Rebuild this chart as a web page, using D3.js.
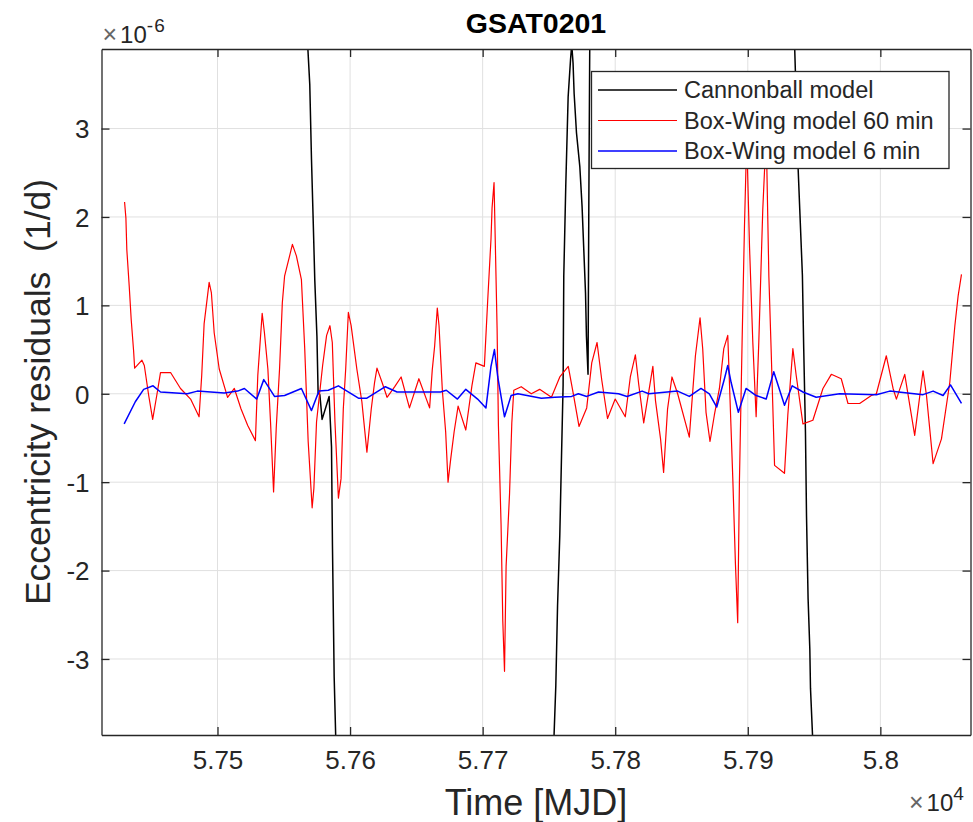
<!DOCTYPE html>
<html>
<head>
<meta charset="utf-8">
<script src="https://cdn.jsdelivr.net/npm/d3@7"></script>
<style>
  body { margin: 0; background: #fff; }
  text { font-family: "Liberation Sans", Arial, Helvetica, sans-serif; }
</style>
</head>
<body>
<div class="wrapper"></div>
<script>
// residuals are in units of 1e-6 (1/d), time in MJD
const cannonball_mjd = [57425, 57490, 57545, 57562, 57568.0, 57569.6, 57570.9, 57572.2, 57573.4, 57575.0,
  57575.9, 57577.2, 57578.9, 57584.2, 57586.0, 57586.7, 57588.0, 57589.2, 57600, 57660, 57720, 57748,
  57753.9, 57755.2, 57756.5, 57758.2, 57759.5, 57760.7, 57761.2, 57762.7, 57764.5, 57766.3, 57767.2,
  57768.2, 57769.0, 57770.8, 57773.3, 57775.0, 57776.3, 57777.6, 57778.3, 57779.5, 57780.1, 57780.8,
  57790, 57860, 57920, 57933, 57935.4, 57936.8, 57938.0, 57939.2, 57941.2, 57942.2, 57943.5, 57944.3,
  57945.5, 57946.8, 57947.3, 57948.8, 57960, 58020, 58062];
const cannonball_res = [12, 19, 13, 6.5, 3.95, 3.5, 2.65, 1.95, 1.28, 0.65,
  0.01, -0.01, -0.29, -0.03, -0.6, -1.7, -3.2, -3.9, -10, -18, -13, -6.5,
  -3.85, -3.3, -2.4, -1.6, -0.7, 0.1, 1.33, 2.35, 3.36, 3.78, 3.95,
  3.74, 3.40, 2.95, 2.57, 2.12, 1.63, 1.14, 0.65, 0.22, 2.16, 3.95,
  10, 17, 9, 5, 3.9, 3.2, 2.54, 2.09, 1.34, 0.51, -0.43, -1.38,
  -2.32, -2.89, -3.33, -3.85, -10, -17, -14];

const bw60_mjd = [57429.9, 57430.9, 57431.6, 57433.4, 57434.9, 57436.7, 57437.5, 57443.0, 57444.8, 57448.1,
  57451.1, 57454.4, 57457.0, 57464.6, 57472.1, 57479.7, 57486.1, 57488.1, 57489.9, 57493.7,
  57495.4, 57497.5, 57501.3, 57507.6, 57512.7, 57517.7, 57522.8, 57528.6, 57530.4, 57533.7,
  57535.4, 57538.0, 57540.0, 57542.3, 57544.3, 57546.8, 57548.9, 57550.6, 57554.4, 57556.5,
  57559.5, 57563.3, 57565.8, 57568.4, 57571.4, 57572.7, 57574.7, 57579.3, 57582.3, 57584.8,
  57586.6, 57588.6, 57591.2, 57593.2, 57594.9, 57596.7, 57598.7, 57600.8, 57605.1, 57608.9,
  57612.7, 57616.0, 57618.5, 57620.3, 57624.1, 57627.9, 57633.7, 57638.5, 57644.8, 57651.9,
  57660.0, 57662.0, 57663.8, 57665.8, 57667.1, 57669.6, 57672.1, 57673.9, 57675.9, 57678.5,
  57681.5, 57687.3, 57691.9, 57694.9, 57701.3, 57703.8, 57706.3, 57707.1, 57708.6, 57710.9,
  57711.9, 57713.9, 57715.2, 57716.5, 57717.7, 57720.3, 57722.0, 57723.5, 57729.1, 57736.7,
  57743.0, 57751.9, 57758.2, 57764.6, 57768.4, 57772.7, 57778.5, 57782.3, 57786.3, 57789.9,
  57794.2, 57800.0, 57807.6, 57811.4, 57815.2, 57817.7, 57821.5, 57828.4, 57830.4, 57834.2,
  57836.5, 57839.5, 57842.8, 57847.1, 57855.9, 57860.5, 57864.0, 57866.0, 57868.5, 57871.5,
  57874.8, 57878.6, 57881.9, 57884.9, 57886.6, 57888.7, 57890.7, 57892.4, 57893.7, 57895.7,
  57897.5, 57899.2, 57901.3, 57903.8, 57906.3, 57908.3, 57911.3, 57913.9, 57915.9, 57917.6,
  57920.2, 57927.7, 57930.2, 57934.0, 57936.5, 57941.6, 57949.1, 57956.7, 57963.0, 57970.5,
  57975.6, 57984.4, 57993.2, 57997.0, 58004.5, 58009.6, 58012.1, 58018.4, 58025.9, 58032.2,
  58034.8, 58039.8, 58046.1, 58052.4, 58056.2, 58058.7, 58061.2];
const bw60_res = [2.17, 1.99, 1.63, 1.22, 0.84, 0.49, 0.29, 0.38, 0.32, -0.02,
  -0.29, 0.00, 0.24, 0.24, 0.06, -0.06, -0.26, 0.21, 0.79, 1.26,
  1.14, 0.69, 0.28, -0.04, 0.06, -0.17, -0.36, -0.53, 0.21, 0.91,
  0.69, 0.28, -0.32, -1.11, -0.39, 0.28, 1.03, 1.33, 1.56, 1.69,
  1.56, 1.29, 0.51, -0.54, -1.29, -1.07, -0.32, 0.32, 0.66, 0.77,
  0.58, -0.32, -1.18, -0.96, -0.17, 0.28, 0.92, 0.77, 0.28, -0.09,
  -0.66, -0.17, 0.13, 0.29, 0.13, -0.04, 0.08, 0.19, -0.16, 0.17,
  -0.16, 0.27, 0.54, 0.97, 0.77, 0.04, -0.43, -1.00, -0.74, -0.43,
  -0.14, -0.41, 0.09, 0.35, 0.31, 1.05, 1.75, 2.10, 2.39, 0.74,
  -0.36, -1.48, -2.57, -3.14, -1.95, -1.13, -0.33, 0.04, 0.08, 0.00,
  0.05, -0.04, 0.19, 0.31, 0.00, -0.37, -0.16, 0.35, 0.58, 0.15,
  -0.28, -0.06, -0.26, 0.19, 0.44, 0.11, -0.33, 0.31, -0.08, -0.51,
  -0.89, -0.17, 0.19, 0.00, -0.49, 0.43, 0.86, 0.51, -0.21, -0.54,
  -0.24, 0.06, 0.51, 0.66, -0.06, -0.96, -1.93, -2.59, -0.99, 0.58,
  1.89, 2.90, 1.67, 0.58, -0.26, 0.58, 2.08, 2.95, 1.33, 0.51,
  -0.81, -0.90, -0.24, 0.51, 0.21, -0.34, -0.30, 0.06, 0.22, 0.17,
  -0.11, -0.11, -0.02, 0.00, 0.43, 0.06, -0.06, 0.22, -0.47, 0.26,
  -0.02, -0.79, -0.51, 0.13, 0.77, 1.11, 1.35];

const bw6_mjd = [57429.6, 57438.0, 57444.3, 57451.4, 57457.0, 57477.2, 57484.8, 57505.1, 57515.2, 57520.3,
  57529.6, 57534.9, 57543.0, 57550.6, 57563.3, 57570.9, 57576.5, 57583.6, 57591.2, 57606.3,
  57612.7, 57626.6, 57635.4, 57668.3, 57672.6, 57681.0, 57687.3, 57696.2, 57702.5, 57706.3,
  57708.9, 57711.4, 57716.5, 57721.5, 57726.6, 57744.3, 57754.4, 57767.1, 57772.2, 57778.5,
  57787.4, 57802.5, 57808.9, 57820.3, 57825.3, 57847.1, 57855.9, 57864.7, 57871.0, 57876.6,
  57882.4, 57884.9, 57887.4, 57892.9, 57898.7, 57906.3, 57913.9, 57919.6, 57927.7, 57933.5,
  57941.6, 57951.6, 57969.3, 57997.0, 58007.1, 58032.2, 58039.8, 58047.3, 58052.9, 58061.2];
const bw6_res = [-0.34, -0.09, 0.05, 0.09, 0.02, 0.00, 0.03, 0.01, 0.03, 0.06,
  -0.06, 0.16, -0.03, -0.02, 0.06, -0.19, 0.03, 0.04, 0.09, -0.05,
  -0.05, 0.08, 0.02, 0.02, 0.04, -0.06, 0.05, -0.06, -0.16, 0.31,
  0.50, 0.19, -0.26, -0.02, 0.00, -0.05, -0.04, -0.03, 0.00, -0.03,
  0.02, 0.00, -0.03, 0.03, 0.00, 0.03, -0.03, 0.06, 0.00, -0.15,
  0.17, 0.32, 0.13, -0.21, 0.06, -0.02, -0.06, 0.25, -0.13, 0.09,
  0.02, -0.04, 0.00, -0.01, 0.03, -0.01, 0.03, -0.02, 0.10, -0.11];

const series_names = ["Cannonball model", "Box-Wing model 60 min", "Box-Wing model 6 min"];
const series_colors = ["#000000", "#ff0000", "#0000ff"];
const x_ticks = [57500, 57600, 57700, 57800, 57900, 58000];
const y_ticks = [-3, -2, -1, 0, 1, 2, 3];
const chart_title = "GSAT0201";

const width = 973, height = 822;
const margin = { left: 101.5, right: 2.5, top: 49, bottom: 87 };
const plot_w = width - margin.left - margin.right;
const plot_h = height - margin.top - margin.bottom;
const axis_color = "#262626";

svg = d3.select(".wrapper").append("svg")
  .attr("width", width)
  .attr("height", height);

x = d3.scaleLinear().domain([57412.5, 58068]).range([0, plot_w]);
y = d3.scaleLinear().domain([-3.86, 3.90]).range([plot_h, 0]);

plot = svg.append("g").attr("transform", "translate(" + margin.left + "," + margin.top + ")");

svg.append("defs").append("clipPath").attr("id", "clip")
  .append("rect").attr("width", plot_w).attr("height", plot_h);

//////////////////////////
////////// GRID //////////
//////////////////////////

plot.append("g").selectAll("line").data(x_ticks).enter().append("line")
  .attr("x1", d => x(d)).attr("x2", d => x(d))
  .attr("y1", 0).attr("y2", plot_h)
  .attr("stroke", "#e0e0e0").attr("stroke-width", 1);

plot.append("g").selectAll("line").data(y_ticks).enter().append("line")
  .attr("x1", 0).attr("x2", plot_w)
  .attr("y1", d => y(d)).attr("y2", d => y(d))
  .attr("stroke", "#e0e0e0").attr("stroke-width", 1);

//////////////////////////
////////// LINES /////////
//////////////////////////

const series = [
  cannonball_mjd.map((d, i) => [d, cannonball_res[i]]),
  bw60_mjd.map((d, i) => [d, bw60_res[i]]),
  bw6_mjd.map((d, i) => [d, bw6_res[i]])
];
const widths = [1.5, 1.2, 1.5];

line = d3.line().x(d => x(d[0])).y(d => y(d[1]));

plot.append("g").attr("clip-path", "url(#clip)")
  .selectAll("path").data(series).enter().append("path")
  .attr("d", line)
  .attr("fill", "none")
  .attr("stroke", (d, i) => series_colors[i])
  .attr("stroke-width", (d, i) => widths[i])
  .attr("stroke-linejoin", "round");

//////////////////////////
////////// AXES //////////
//////////////////////////

const tick_len = 8;

xBottom = plot.append("g").attr("transform", "translate(0," + plot_h + ")")
  .call(d3.axisBottom(x).tickValues(x_ticks).tickSizeInner(-tick_len).tickSizeOuter(0)
    .tickFormat(d => String(+(d / 1e4).toFixed(4))));
xTop = plot.append("g")
  .call(d3.axisTop(x).tickValues(x_ticks).tickSizeInner(-tick_len).tickSizeOuter(0).tickFormat(""));
yLeft = plot.append("g")
  .call(d3.axisLeft(y).tickValues(y_ticks).tickSizeInner(-tick_len).tickSizeOuter(0).tickPadding(12)
    .tickFormat(d => String(d)));
yRight = plot.append("g").attr("transform", "translate(" + plot_w + ",0)")
  .call(d3.axisRight(y).tickValues(y_ticks).tickSizeInner(-tick_len).tickSizeOuter(0).tickFormat(""));

[xBottom, xTop, yLeft, yRight].forEach(a => {
  a.select(".domain").attr("stroke", axis_color).attr("stroke-width", 1.3);
  a.selectAll(".tick line").attr("stroke", axis_color).attr("stroke-width", 1.3);
  a.selectAll(".tick text").attr("fill", axis_color)
    .style("font-size", "26px")
    .style("font-family", "'Liberation Sans', Arial, sans-serif");
});
xBottom.selectAll(".tick text").attr("dy", "0.71em").attr("y", 16);
yLeft.selectAll(".tick text").attr("dy", "0.36em");

// exponent labels
svg.append("text")
  .attr("x", margin.left + 1).attr("y", 43)
  .attr("fill", axis_color)
  .style("font-size", "24px")
  .call(t => {
    t.append("tspan").text("\u00d7").style("font-size", "25px").attr("fill", "#666");
    t.append("tspan").text("10").attr("dx", 3);
    t.append("tspan").text("-6").attr("dy", -11).style("font-size", "19px").style("letter-spacing", "1px");
  });

svg.append("text")
  .attr("x", 909).attr("y", 811)
  .attr("fill", axis_color)
  .style("font-size", "24px")
  .call(t => {
    t.append("tspan").text("\u00d7").style("font-size", "25px").attr("fill", "#666");
    t.append("tspan").text("10").attr("dx", 3);
    t.append("tspan").text("4").attr("dy", -11).style("font-size", "19px");
  });

//////////////////////////
///////// LABELS /////////
//////////////////////////

svg.append("text")
  .attr("x", margin.left + plot_w / 2)
  .attr("y", 33)
  .attr("text-anchor", "middle")
  .style("font-size", "28.5px")
  .style("font-weight", "bold")
  .attr("fill", "#000")
  .text(chart_title);

svg.append("text")
  .attr("x", margin.left + plot_w / 2)
  .attr("y", 815)
  .attr("text-anchor", "middle")
  .style("font-size", "36px")
  .attr("fill", axis_color)
  .text("Time [MJD]");

svg.append("text")
  .attr("transform", "translate(50," + (margin.top + plot_h / 2) + ") rotate(-90)")
  .attr("text-anchor", "middle")
  .style("font-size", "35.5px")
  .style("white-space", "pre")
  .attr("xml:space", "preserve")
  .attr("fill", axis_color)
  .text("Eccentricity residuals  (1/d)");

//////////////////////////
///////// LEGEND /////////
//////////////////////////

legend = svg.append("g").attr("transform", "translate(591.5,71.5)");

legend.append("rect")
  .attr("width", 357.5).attr("height", 97)
  .attr("fill", "#fff")
  .attr("stroke", axis_color).attr("stroke-width", 1.3);

items = legend.selectAll("g.item").data(series_names).enter().append("g")
  .attr("class", "item")
  .attr("transform", (d, i) => "translate(0," + (18.5 + i * 30.5) + ")");

items.append("line")
  .attr("x1", 6.5).attr("x2", 85.5)
  .attr("stroke", (d, i) => series_colors[i])
  .attr("stroke-width", (d, i) => widths[i]);

items.append("text")
  .attr("x", 92.5).attr("dy", "0.36em")
  .style("font-size", "23.5px")
  .attr("fill", axis_color)
  .text(d => d);
</script>
</body>
</html>
